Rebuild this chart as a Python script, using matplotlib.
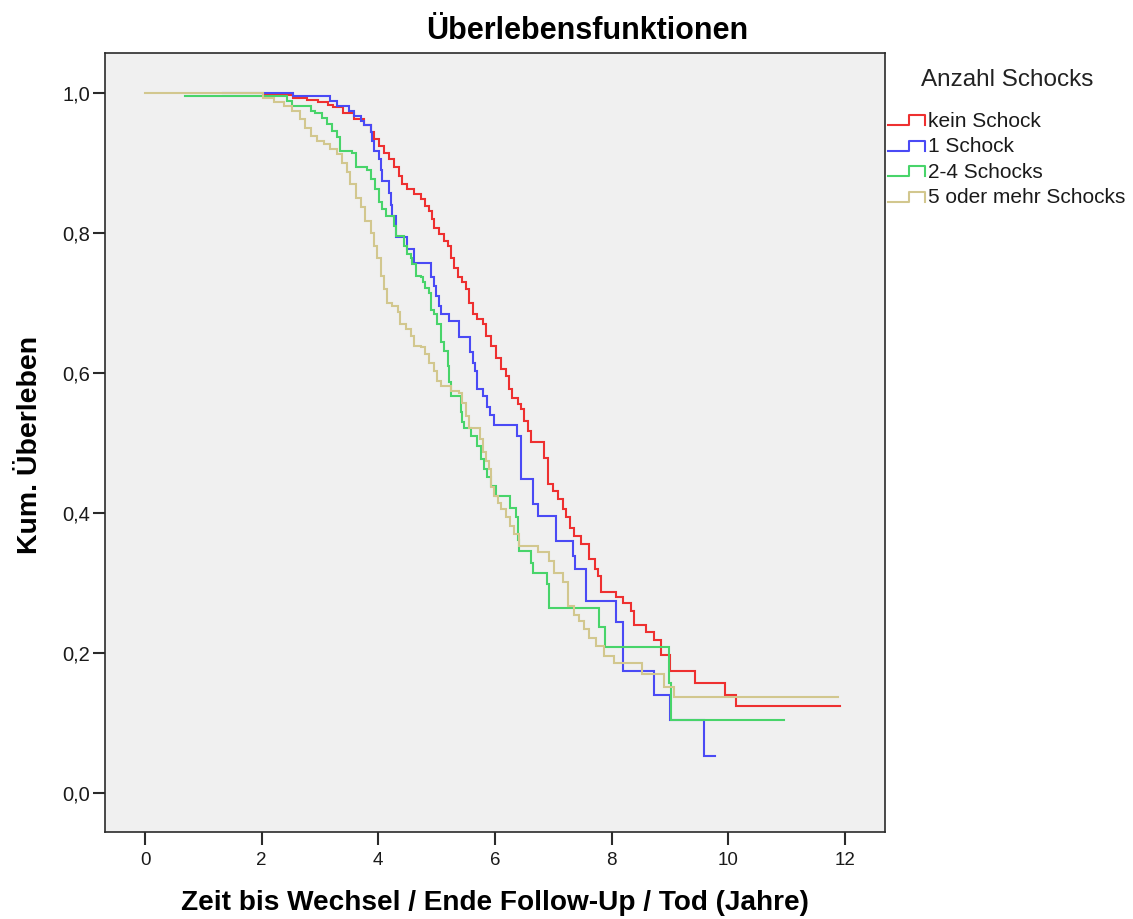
import matplotlib
matplotlib.use("Agg")
import matplotlib.pyplot as plt
from matplotlib.lines import Line2D

# Kaplan-Meier step curves: event times (Jahre) and survival after each step
groups = ["kein Schock", "1 Schock", "2-4 Schocks", "5 oder mehr Schocks"]
colors = ["#ee3030", "#4a4af5", "#48d46a", "#d2c78e"]

t_kein = [2.03, 2.54, 2.78, 2.96, 3.13, 3.23, 3.40, 3.58, 3.75, 3.87, 3.92, 4.01,
          4.10, 4.18, 4.27, 4.35, 4.41, 4.50, 4.61, 4.73, 4.80, 4.87, 4.93, 4.96,
          5.04, 5.13, 5.19, 5.24, 5.30, 5.36, 5.44, 5.50, 5.56, 5.62, 5.70, 5.79,
          5.84, 5.93, 6.02, 6.10, 6.19, 6.25, 6.30, 6.39, 6.45, 6.50, 6.56, 6.62,
          6.85, 6.91, 6.99, 7.08, 7.16, 7.22, 7.28, 7.36, 7.48, 7.62, 7.71, 7.77,
          7.82, 8.08, 8.19, 8.34, 8.39, 8.60, 8.73, 8.85, 9.00, 9.43, 9.94, 10.13]
s_kein = [0.997, 0.994, 0.991, 0.988, 0.984, 0.980, 0.972, 0.963, 0.954, 0.944, 0.934, 0.925,
          0.915, 0.906, 0.894, 0.882, 0.870, 0.863, 0.856, 0.849, 0.839, 0.832, 0.820, 0.808,
          0.799, 0.789, 0.782, 0.765, 0.751, 0.737, 0.730, 0.720, 0.701, 0.684, 0.677, 0.670,
          0.653, 0.639, 0.622, 0.606, 0.596, 0.577, 0.565, 0.556, 0.549, 0.532, 0.517, 0.501,
          0.479, 0.442, 0.432, 0.420, 0.406, 0.394, 0.379, 0.368, 0.356, 0.334, 0.320, 0.310,
          0.288, 0.280, 0.271, 0.260, 0.240, 0.230, 0.219, 0.197, 0.174, 0.158, 0.140, 0.124]
end_kein = 11.92

t_eins = [1.34, 2.54, 3.18, 3.30, 3.50, 3.58, 3.70, 3.75, 3.87, 3.90, 3.92, 4.01,
          4.04, 4.07, 4.18, 4.21, 4.24, 4.30, 4.50, 4.61, 4.91, 4.95, 4.99, 5.04,
          5.07, 5.21, 5.39, 5.58, 5.62, 5.66, 5.70, 5.80, 5.86, 5.92, 5.99, 6.38,
          6.45, 6.65, 6.74, 7.05, 7.34, 7.37, 7.56, 8.08, 8.19, 8.73, 9.00, 9.59]
s_eins = [1.000, 0.996, 0.989, 0.982, 0.975, 0.968, 0.961, 0.954, 0.944, 0.932, 0.918, 0.906,
          0.891, 0.875, 0.858, 0.841, 0.825, 0.794, 0.777, 0.758, 0.737, 0.725, 0.710, 0.696,
          0.684, 0.675, 0.652, 0.630, 0.615, 0.603, 0.578, 0.568, 0.552, 0.540, 0.526, 0.510,
          0.449, 0.413, 0.396, 0.360, 0.339, 0.320, 0.275, 0.245, 0.175, 0.140, 0.105, 0.053]
end_eins = 9.77

t_zwei = [0.69, 2.44, 2.52, 2.84, 2.92, 3.04, 3.12, 3.21, 3.30, 3.35, 3.55, 3.61,
          3.81, 3.87, 3.95, 4.01, 4.07, 4.13, 4.27, 4.30, 4.44, 4.50, 4.56, 4.58,
          4.64, 4.73, 4.76, 4.81, 4.87, 4.90, 4.96, 5.01, 5.07, 5.13, 5.19, 5.21,
          5.24, 5.42, 5.44, 5.47, 5.59, 5.70, 5.76, 5.82, 5.87, 5.94, 6.02, 6.26,
          6.36, 6.39, 6.42, 6.62, 6.65, 6.89, 6.93, 7.79, 7.88, 8.98, 9.02]
s_zwei = [0.996, 0.989, 0.982, 0.975, 0.972, 0.965, 0.956, 0.946, 0.937, 0.918, 0.915, 0.894,
          0.891, 0.877, 0.863, 0.844, 0.834, 0.825, 0.810, 0.796, 0.782, 0.770, 0.765, 0.756,
          0.739, 0.737, 0.730, 0.722, 0.715, 0.691, 0.684, 0.670, 0.644, 0.632, 0.610, 0.587,
          0.568, 0.544, 0.530, 0.522, 0.510, 0.496, 0.477, 0.463, 0.452, 0.439, 0.425, 0.408,
          0.394, 0.361, 0.346, 0.329, 0.315, 0.299, 0.265, 0.238, 0.209, 0.158, 0.105]
end_zwei = 10.95

t_fuenf = [0.00, 2.03, 2.21, 2.38, 2.52, 2.66, 2.75, 2.84, 2.95, 3.07, 3.18, 3.30,
           3.38, 3.47, 3.52, 3.61, 3.70, 3.78, 3.87, 3.92, 3.98, 4.04, 4.10, 4.15,
           4.24, 4.33, 4.38, 4.47, 4.56, 4.61, 4.73, 4.81, 4.87, 4.96, 5.01, 5.07,
           5.24, 5.39, 5.44, 5.50, 5.56, 5.75, 5.79, 5.84, 5.90, 5.93, 5.99, 6.05,
           6.10, 6.19, 6.26, 6.33, 6.42, 6.74, 6.93, 7.02, 7.16, 7.25, 7.36, 7.44,
           7.53, 7.62, 7.74, 7.87, 8.04, 8.53, 8.90, 9.07]
s_fuenf = [1.000, 0.994, 0.987, 0.982, 0.975, 0.963, 0.951, 0.939, 0.932, 0.927, 0.920, 0.913,
           0.901, 0.887, 0.870, 0.851, 0.837, 0.818, 0.801, 0.782, 0.765, 0.739, 0.720, 0.701,
           0.696, 0.687, 0.670, 0.663, 0.653, 0.639, 0.637, 0.627, 0.615, 0.603, 0.589, 0.582,
           0.575, 0.572, 0.558, 0.539, 0.522, 0.506, 0.487, 0.475, 0.463, 0.438, 0.425, 0.415,
           0.406, 0.394, 0.382, 0.370, 0.353, 0.345, 0.332, 0.315, 0.301, 0.268, 0.254, 0.246,
           0.234, 0.221, 0.210, 0.196, 0.186, 0.170, 0.152, 0.137]
end_fuenf = 11.89

series = [(t_kein, s_kein, end_kein), (t_eins, s_eins, end_eins),
          (t_zwei, s_zwei, end_zwei), (t_fuenf, s_fuenf, end_fuenf)]

x_ticks = [0, 2, 4, 6, 8, 10, 12]
y_ticks = [0.0, 0.2, 0.4, 0.6, 0.8, 1.0]
y_ticklabels = ["0,0", "0,2", "0,4", "0,6", "0,8", "1,0"]

W, H = 1133, 919
fig = plt.figure(figsize=(W / 100, H / 100), dpi=100)
fig.patch.set_facecolor("white")


def fx(px):
    return px / W


def fy(py):
    return 1 - py / H


ax = fig.add_axes([fx(105), fy(831.5), (885 - 105) / W, (831.5 - 53) / H])
ax.set_facecolor("#f0f0f0")

for (t, s, t_end), col in zip(series, colors):
    ax.step(list(t) + [t_end], list(s) + [s[-1]], where="post",
            color=col, linewidth=1.5, solid_joinstyle="miter")

ax.set_xlim(-0.686, 12.69)
ax.set_ylim(-0.0549, 1.0576)

for sp in ax.spines.values():
    sp.set_color("#2b2b2b")
    sp.set_linewidth(1.2)

ax.set_xticks(x_ticks)
ax.set_xticklabels([str(v) for v in x_ticks])
ax.set_yticks(y_ticks)
ax.set_yticklabels(y_ticklabels)
ax.tick_params(axis="both", direction="out", length=9, width=1.5, color="#2b2b2b")
ax.tick_params(axis="x", pad=6)
ax.tick_params(axis="y", pad=1.5)
for lab in ax.get_xticklabels():
    lab.set_fontfamily(["Liberation Sans"])
    lab.set_fontsize(13.5)
    lab.set_color("#1a1a1a")
for lab in ax.get_yticklabels():
    lab.set_fontfamily(["Liberation Sans"])
    lab.set_fontsize(14.5)
    lab.set_color("#1a1a1a")

fig.text(fx(587), fy(31), "Überlebensfunktionen", ha="center", va="center",
         fontsize=22, fontweight="bold", family=["Liberation Sans"])
fig.text(fx(30), fy(445), "Kum. Überleben", ha="center", va="center",
         rotation=90, fontsize=20.5, fontweight="bold", family=["Liberation Sans"])
fig.text(fx(495), fy(903), "Zeit bis Wechsel / Ende Follow-Up / Tod (Jahre)",
         ha="center", va="center", fontsize=20.2, fontweight="bold",
         family=["Liberation Sans"])

# Legend with small step-shaped keys
fig.text(fx(1007), fy(80), "Anzahl Schocks", ha="center", va="center",
         fontsize=17.5, family=["Liberation Sans"], color="#222222")
entry_y = [121, 146.5, 172, 197.5]
for name, col, yc in zip(groups, colors, entry_y):
    xs = [888, 909, 909, 925, 925]
    ys = [yc + 4, yc + 4, yc - 6, yc - 6, yc + 4]
    fig.add_artist(Line2D([fx(v) for v in xs], [fy(v) for v in ys],
                          color=col, linewidth=1.5, transform=fig.transFigure))
    fig.text(fx(928), fy(yc), name, ha="left", va="center", fontsize=15,
             family=["Liberation Sans"], color="#1a1a1a")

fig.savefig("out.png", dpi=100, facecolor="white")
